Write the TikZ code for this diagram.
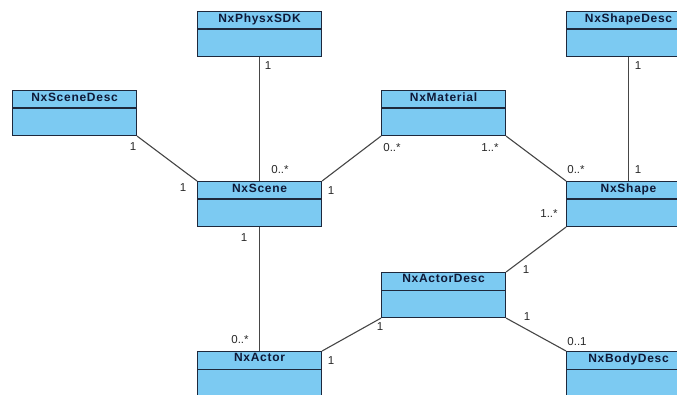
\documentclass[tikz,border=0pt]{standalone}
\usepackage{fontspec}
\setmainfont{Liberation Sans}
\definecolor{boxfill}{RGB}{124,202,242}
\definecolor{boxline}{RGB}{30,40,60}
\definecolor{namecol}{RGB}{15,25,55}
\definecolor{assoc}{RGB}{70,70,70}
\definecolor{multcol}{RGB}{40,40,40}
\begin{document}
\begin{tikzpicture}[x=1pt,y=-1pt,
  umlclass/.style={draw=boxline, fill=boxfill, line width=1.1pt,
    minimum width=124pt, minimum height=45pt, inner sep=0pt, anchor=north west,
    path picture={\draw[boxline, line width=1.1pt]
      ([yshift=-17.5pt]path picture bounding box.north west) --
      ([yshift=-17.5pt]path picture bounding box.north east);},
    label={[classname]north:#1}},
  classname/.style={anchor=north, yshift=-2.5pt, inner sep=0pt,
    text=namecol, font=\fontsize{12}{12}\selectfont\bfseries\addfontfeature{LetterSpace=6}},
  assocline/.style={draw=assoc, line width=1.1pt},
  mult/.style={text=multcol, inner sep=0pt, font=\fontsize{11.5}{11.5}\selectfont}]
\useasboundingbox (0,0) rectangle (677,395);
\clip (0,0) rectangle (677,395);

% classes
\node[umlclass=NxPhysxSDK]  (sdk)       at (197,11)  {};
\node[umlclass=NxSceneDesc] (scenedesc) at (12,90)   {};
\node[umlclass=NxScene]     (scene)     at (197,181) {};
\node[umlclass=NxMaterial]  (material)  at (381,90)  {};
\node[umlclass=NxShapeDesc] (shapedesc) at (566,11)  {};
\node[umlclass=NxShape]     (shape)     at (566,181) {};
\node[umlclass=NxActorDesc] (actordesc) at (381,272) {};
\node[umlclass=NxActor]     (actor)     at (197,351) {};
\node[umlclass=NxBodyDesc]  (bodydesc)  at (566,351) {};

% associations
\draw[assocline] (sdk.south) -- (scene.north);
\draw[assocline] (scenedesc.south east) -- (scene.north west);
\draw[assocline] (scene.north east) -- (material.south west);
\draw[assocline] (material.south east) -- (shape.north west);
\draw[assocline] (shapedesc.south) -- (shape.north);
\draw[assocline] (scene.south) -- (actor.north);
\draw[assocline] (shape.south west) -- (actordesc.north east);
\draw[assocline] (actordesc.south west) -- (actor.north east);
\draw[assocline] (actordesc.south east) -- (bodydesc.north west);

% multiplicities
\node[mult] (m1)  at (268,66)  {1};
\node[mult] (m2)  at (280,170) {0..*};
\node[mult] (m3)  at (133,147) {1};
\node[mult] (m4)  at (183,188) {1};
\node[mult] (m5)  at (331,191) {1};
\node[mult] (m6)  at (392,148) {0..*};
\node[mult] (m7)  at (490,148) {1..*};
\node[mult] (m8)  at (576,170) {0..*};
\node[mult] (m9)  at (638,170) {1};
\node[mult] (m10) at (638,66)  {1};
\node[mult] (m11) at (244,238) {1};
\node[mult] (m12) at (240,340) {0..*};
\node[mult] (m13) at (549,214) {1..*};
\node[mult] (m14) at (526,270) {1};
\node[mult] (m15) at (380,327) {1};
\node[mult] (m16) at (331,361) {1};
\node[mult] (m17) at (527,317) {1};
\node[mult] (m18) at (577,342) {0..1};
\end{tikzpicture}
\end{document}
